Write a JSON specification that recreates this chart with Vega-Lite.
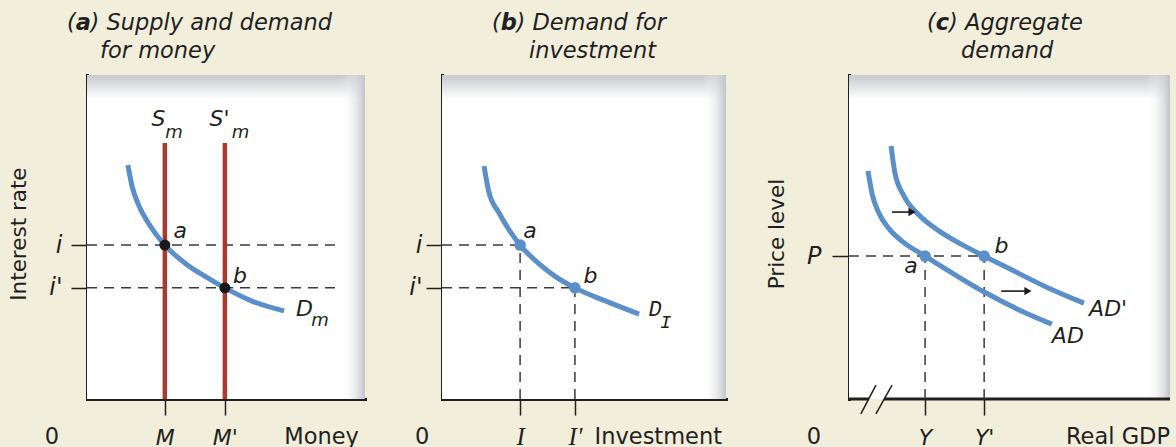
{
  "$schema": "https://vega.github.io/schema/vega-lite/v6.json",
  "background": "#f1eedc",
  "padding": {"left": 9, "top": 11, "right": 5, "bottom": 0},
  "autosize": {"type": "pad"},
  "config": {
    "view": {"stroke": null},
    "font": "DejaVu Sans",
    "axis": {"grid": false, "domainColor": "#231f20", "domainWidth": 3, "domainCap": "square", "tickColor": "#231f20", "tickWidth": 1.5, "tickSize": 16, "labelColor": "#231f20", "labelFont": "DejaVu Sans", "labelFontStyle": "italic", "labelFontSize": 22, "labelFlush": false, "labelOverlap": false, "zindex": 1},
    "axisX": {"labelPadding": 29, "labelBaseline": "alphabetic"},
    "axisY": {"labelBaseline": "middle", "labelFontSize": 24}
  },
  "spacing": 77,
  "bounds": "flush",
  "hconcat": [
    {
      "width": 278,
      "height": 324,
      "encoding": {
        "x": {"field": "x", "type": "quantitative", "scale": {"domain": [0, 10], "nice": false, "zero": false}, "axis": {"title": null, "values": [2.8, 4.96], "labelExpr": "datum.value == 2.8 ? 'M' : \"M'\""}},
        "y": {"field": "y", "type": "quantitative", "scale": {"domain": [0, 10], "nice": false, "zero": false}, "axis": {"title": null, "values": [4.75, 3.43], "labelExpr": "datum.value == 4.75 ? 'i' : \"i'\"", "labelPadding": 9}}
      },
      "layer": [
        {"data": {"values": [{"x": 0, "x2": 10, "y": 0, "y2": 10}]}, "mark": {"type": "rect", "color": {"x1": 0, "y1": 0, "x2": 0, "y2": 1, "gradient": "linear", "stops": [{"offset": 0, "color": "#c6c9ce"}, {"offset": 0.075, "color": "#ffffff"}, {"offset": 1, "color": "#ffffff"}]}}, "encoding": {"x2": {"field": "x2"}, "y2": {"field": "y2"}}},
        {"data": {"values": [{"x": 9.17, "x2": 10, "y": 0, "y2": 10}]}, "mark": {"type": "rect", "color": {"x1": 0, "y1": 0, "x2": 1, "y2": 0, "gradient": "linear", "stops": [{"offset": 0, "color": "rgba(255,255,255,0)"}, {"offset": 1, "color": "#c0c3c8"}]}}, "encoding": {"x2": {"field": "x2"}, "y2": {"field": "y2"}}},
        {"data": {"values": [{"y": 4.75, "x": 0, "x2": 9.06}, {"y": 3.43, "x": 0, "x2": 9.06}]}, "mark": {"type": "rule", "color": "#3a3a3a", "strokeWidth": 1.5, "strokeDash": [10, 7]}, "encoding": {"x2": {"field": "x2"}}},
        {"data": {"values": [{"x": 2.8, "y": 0, "y2": 7.9}, {"x": 4.96, "y": 0, "y2": 7.9}]}, "mark": {"type": "rule", "color": "#a93b2e", "strokeWidth": 4.5}, "encoding": {"y2": {"field": "y2"}}},
        {"data": {"values": [{"x": 1.47, "y": 7.22}, {"x": 1.62, "y": 6.57}, {"x": 1.87, "y": 5.96}, {"x": 2.23, "y": 5.40}, {"x": 2.8, "y": 4.75}, {"x": 3.56, "y": 4.17}, {"x": 4.28, "y": 3.77}, {"x": 4.96, "y": 3.43}, {"x": 5.94, "y": 3.02}, {"x": 7.09, "y": 2.72}]}, "mark": {"type": "line", "color": "#5b8fc9", "strokeWidth": 5, "interpolate": "monotone", "strokeCap": "butt"}},
        {"data": {"values": [{"x": 2.8, "y": 4.75}, {"x": 4.96, "y": 3.43}]}, "mark": {"type": "circle", "size": 120, "color": "#1a1a1a", "opacity": 1}},
        {"data": {"values": [{"x": 3.35, "y": 4.97, "t": "a"}, {"x": 5.5, "y": 3.58, "t": "b"}, {"x": 2.57, "y": 8.43, "t": "S"}, {"x": 4.77, "y": 8.43, "t": "S'"}, {"x": 7.82, "y": 2.56, "t": "D"}]}, "mark": {"type": "text", "fontStyle": "italic", "fontSize": 22, "align": "center", "baseline": "alphabetic", "color": "#231f20"}, "encoding": {"text": {"field": "t"}}},
        {"data": {"values": [{"x": 3.13, "y": 8.06, "t": "m"}, {"x": 5.52, "y": 8.06, "t": "m"}, {"x": 8.38, "y": 2.25, "t": "m"}]}, "mark": {"type": "text", "fontStyle": "italic", "fontSize": 18, "align": "center", "baseline": "alphabetic", "color": "#231f20"}, "encoding": {"text": {"field": "t"}}},
        {"data": {"values": [{"x": -1.26, "y": -1.39, "t": "0"}]}, "mark": {"type": "text", "fontSize": 22.5, "align": "center", "baseline": "alphabetic", "color": "#231f20"}, "encoding": {"text": {"field": "t"}}},
        {"data": {"values": [{"x": 9.78, "y": -1.39, "t": "Money"}]}, "mark": {"type": "text", "fontSize": 22.5, "align": "right", "baseline": "alphabetic", "color": "#231f20"}, "encoding": {"text": {"field": "t"}}},
        {"data": {"values": [{"x": -2.41, "y": 5.09, "t": "Interest rate"}]}, "mark": {"type": "text", "fontSize": 21.5, "angle": 270, "align": "center", "baseline": "middle", "color": "#231f20"}, "encoding": {"text": {"field": "t"}}},
        {"data": {"values": [{"x": -0.72, "y": 11.39, "open": "(", "letter": "a", "rest": ") Supply and demand"}]}, "mark": {"type": "text", "fontStyle": "italic", "fontSize": 22.5, "align": "left", "baseline": "alphabetic", "color": "#231f20"}, "encoding": {"text": {"field": "open"}}},
        {"data": {"values": [{"x": -0.72, "y": 11.39, "open": "(", "letter": "a", "rest": ") Supply and demand"}]}, "mark": {"type": "text", "fontStyle": "italic", "fontWeight": "bold", "fontSize": 22.5, "align": "left", "baseline": "alphabetic", "dx": 8.8, "color": "#231f20"}, "encoding": {"text": {"field": "letter"}}},
        {"data": {"values": [{"x": -0.72, "y": 11.39, "open": "(", "letter": "a", "rest": ") Supply and demand"}]}, "mark": {"type": "text", "fontStyle": "italic", "fontSize": 22.5, "align": "left", "baseline": "alphabetic", "dx": 23.5, "color": "#231f20"}, "encoding": {"text": {"field": "rest"}}},
        {"data": {"values": [{"x": 0.47, "y": 10.52, "t": "for money"}]}, "mark": {"type": "text", "fontStyle": "italic", "fontSize": 22.5, "align": "left", "baseline": "alphabetic", "color": "#231f20"}, "encoding": {"text": {"field": "t"}}}
      ]
    },
    {
      "width": 284,
      "height": 324,
      "encoding": {
        "x": {"field": "x", "type": "quantitative", "scale": {"domain": [0, 10], "nice": false, "zero": false}, "axis": {"title": null, "values": [2.75, 4.68], "labelExpr": "datum.value == 2.75 ? 'I' : \"I'\"", "labelFont": "Liberation Serif", "labelFontSize": 25}},
        "y": {"field": "y", "type": "quantitative", "scale": {"domain": [0, 10], "nice": false, "zero": false}, "axis": {"title": null, "values": [4.75, 3.43], "labelExpr": "datum.value == 4.75 ? 'i' : \"i'\"", "labelPadding": 4}}
      },
      "layer": [
        {"data": {"values": [{"x": 0, "x2": 10, "y": 0, "y2": 10}]}, "mark": {"type": "rect", "color": {"x1": 0, "y1": 0, "x2": 0, "y2": 1, "gradient": "linear", "stops": [{"offset": 0, "color": "#c6c9ce"}, {"offset": 0.075, "color": "#ffffff"}, {"offset": 1, "color": "#ffffff"}]}}, "encoding": {"x2": {"field": "x2"}, "y2": {"field": "y2"}}},
        {"data": {"values": [{"x": 9.19, "x2": 10, "y": 0, "y2": 10}]}, "mark": {"type": "rect", "color": {"x1": 0, "y1": 0, "x2": 1, "y2": 0, "gradient": "linear", "stops": [{"offset": 0, "color": "rgba(255,255,255,0)"}, {"offset": 1, "color": "#c0c3c8"}]}}, "encoding": {"x2": {"field": "x2"}, "y2": {"field": "y2"}}},
        {"data": {"values": [{"y": 4.75, "x": 0, "x2": 2.75}, {"y": 3.43, "x": 0, "x2": 4.68}]}, "mark": {"type": "rule", "color": "#3a3a3a", "strokeWidth": 1.5, "strokeDash": [10, 7]}, "encoding": {"x2": {"field": "x2"}}},
        {"data": {"values": [{"x": 2.75, "y": 0, "y2": 4.75}, {"x": 4.68, "y": 0, "y2": 3.43}]}, "mark": {"type": "rule", "color": "#3a3a3a", "strokeWidth": 1.5, "strokeDash": [10, 7]}, "encoding": {"y2": {"field": "y2"}}},
        {"data": {"values": [{"x": 1.48, "y": 7.19}, {"x": 1.65, "y": 6.39}, {"x": 2.01, "y": 5.74}, {"x": 2.36, "y": 5.22}, {"x": 2.75, "y": 4.75}, {"x": 3.42, "y": 4.17}, {"x": 4.01, "y": 3.77}, {"x": 4.68, "y": 3.43}, {"x": 5.77, "y": 3.02}, {"x": 6.94, "y": 2.62}]}, "mark": {"type": "line", "color": "#5b8fc9", "strokeWidth": 5, "interpolate": "monotone", "strokeCap": "butt"}},
        {"data": {"values": [{"x": 2.75, "y": 4.75}, {"x": 4.68, "y": 3.43}]}, "mark": {"type": "circle", "size": 133, "color": "#5b8fc9", "opacity": 1}},
        {"data": {"values": [{"x": 3.10, "y": 4.97, "t": "a"}, {"x": 5.23, "y": 3.58, "t": "b"}]}, "mark": {"type": "text", "fontStyle": "italic", "fontSize": 22, "align": "center", "baseline": "alphabetic", "color": "#231f20"}, "encoding": {"text": {"field": "t"}}},
        {"data": {"values": [{"x": 7.5, "y": 2.56, "t": "D"}]}, "mark": {"type": "text", "font": "Liberation Mono", "fontStyle": "italic", "fontSize": 22, "align": "center", "baseline": "alphabetic", "color": "#231f20"}, "encoding": {"text": {"field": "t"}}},
        {"data": {"values": [{"x": 7.88, "y": 2.19, "t": "I"}]}, "mark": {"type": "text", "font": "Liberation Mono", "fontStyle": "italic", "fontSize": 19, "align": "center", "baseline": "alphabetic", "color": "#231f20"}, "encoding": {"text": {"field": "t"}}},
        {"data": {"values": [{"x": -0.70, "y": -1.39, "t": "0"}]}, "mark": {"type": "text", "fontSize": 22.5, "align": "center", "baseline": "alphabetic", "color": "#231f20"}, "encoding": {"text": {"field": "t"}}},
        {"data": {"values": [{"x": 9.86, "y": -1.39, "t": "Investment"}]}, "mark": {"type": "text", "fontSize": 22.5, "align": "right", "baseline": "alphabetic", "color": "#231f20"}, "encoding": {"text": {"field": "t"}}},
        {"data": {"values": [{"x": 1.76, "y": 11.39, "open": "(", "letter": "b", "rest": ") Demand for"}]}, "mark": {"type": "text", "fontStyle": "italic", "fontSize": 22.5, "align": "left", "baseline": "alphabetic", "color": "#231f20"}, "encoding": {"text": {"field": "open"}}},
        {"data": {"values": [{"x": 1.76, "y": 11.39, "open": "(", "letter": "b", "rest": ") Demand for"}]}, "mark": {"type": "text", "fontStyle": "italic", "fontWeight": "bold", "fontSize": 22.5, "align": "left", "baseline": "alphabetic", "dx": 8.8, "color": "#231f20"}, "encoding": {"text": {"field": "letter"}}},
        {"data": {"values": [{"x": 1.76, "y": 11.39, "open": "(", "letter": "b", "rest": ") Demand for"}]}, "mark": {"type": "text", "fontStyle": "italic", "fontSize": 22.5, "align": "left", "baseline": "alphabetic", "dx": 24.5, "color": "#231f20"}, "encoding": {"text": {"field": "rest"}}},
        {"data": {"values": [{"x": 3.06, "y": 10.52, "t": "investment"}]}, "mark": {"type": "text", "fontStyle": "italic", "fontSize": 22.5, "align": "left", "baseline": "alphabetic", "color": "#231f20"}, "encoding": {"text": {"field": "t"}}}
      ]
    },
    {
      "width": 367,
      "height": 324,
      "encoding": {
        "x": {"field": "x", "type": "quantitative", "scale": {"domain": [-1.433, 10], "nice": false, "zero": false}, "axis": {"title": null, "domain": false, "values": [2.37, 4.21], "labelExpr": "datum.value == 2.37 ? 'Y' : \"Y'\""}},
        "y": {"field": "y", "type": "quantitative", "scale": {"domain": [0, 10], "nice": false, "zero": false}, "axis": {"title": null, "values": [4.41], "labelExpr": "'P'", "tickSize": 17, "labelPadding": 11, "offset": -46}}
      },
      "layer": [
        {"data": {"values": [{"x": 0, "x2": 10, "y": 0, "y2": 10}]}, "mark": {"type": "rect", "color": {"x1": 0, "y1": 0, "x2": 0, "y2": 1, "gradient": "linear", "stops": [{"offset": 0, "color": "#c6c9ce"}, {"offset": 0.075, "color": "#ffffff"}, {"offset": 1, "color": "#ffffff"}]}}, "encoding": {"x2": {"field": "x2"}, "y2": {"field": "y2"}}},
        {"data": {"values": [{"x": 9.28, "x2": 10, "y": 0, "y2": 10}]}, "mark": {"type": "rect", "color": {"x1": 0, "y1": 0, "x2": 1, "y2": 0, "gradient": "linear", "stops": [{"offset": 0, "color": "rgba(255,255,255,0)"}, {"offset": 1, "color": "#c0c3c8"}]}}, "encoding": {"x2": {"field": "x2"}, "y2": {"field": "y2"}}},
        {"data": {"values": [{"x": -0.02, "x2": 0.62, "y": 0}, {"x": 1.09, "x2": 10, "y": 0}]}, "mark": {"type": "rule", "color": "#231f20", "strokeWidth": 3}, "encoding": {"x2": {"field": "x2"}}},
        {"data": {"values": [{"x": 0.37, "y": -0.46, "x2": 0.84, "y2": 0.43}, {"x": 0.84, "y": -0.46, "x2": 1.34, "y2": 0.43}]}, "mark": {"type": "rule", "color": "#231f20", "strokeWidth": 1.5}, "encoding": {"x2": {"field": "x2"}, "y2": {"field": "y2"}}},
        {"data": {"values": [{"y": 4.41, "x": 0, "x2": 4.21}]}, "mark": {"type": "rule", "color": "#3a3a3a", "strokeWidth": 1.5, "strokeDash": [10, 7]}, "encoding": {"x2": {"field": "x2"}}},
        {"data": {"values": [{"x": 2.37, "y": 0, "y2": 4.41}, {"x": 4.21, "y": 0, "y2": 4.41}]}, "mark": {"type": "rule", "color": "#3a3a3a", "strokeWidth": 1.5, "strokeDash": [10, 7]}, "encoding": {"y2": {"field": "y2"}}},
        {"data": {"values": [
          {"c": "AD", "x": 0.59, "y": 7.04}, {"c": "AD", "x": 0.72, "y": 6.33}, {"c": "AD", "x": 0.93, "y": 5.74}, {"c": "AD", "x": 1.25, "y": 5.25}, {"c": "AD", "x": 1.68, "y": 4.85}, {"c": "AD", "x": 2.37, "y": 4.41}, {"c": "AD", "x": 3.21, "y": 3.89}, {"c": "AD", "x": 4.27, "y": 3.27}, {"c": "AD", "x": 5.30, "y": 2.75}, {"c": "AD", "x": 6.32, "y": 2.31},
          {"c": "AD'", "x": 1.31, "y": 7.81}, {"c": "AD'", "x": 1.43, "y": 6.98}, {"c": "AD'", "x": 1.71, "y": 6.27}, {"c": "AD'", "x": 2.18, "y": 5.68}, {"c": "AD'", "x": 2.80, "y": 5.19}, {"c": "AD'", "x": 3.49, "y": 4.78}, {"c": "AD'", "x": 4.21, "y": 4.41}, {"c": "AD'", "x": 5.08, "y": 3.98}, {"c": "AD'", "x": 6.14, "y": 3.46}, {"c": "AD'", "x": 7.32, "y": 2.96}
        ]}, "mark": {"type": "line", "color": "#5b8fc9", "strokeWidth": 5, "interpolate": "monotone", "strokeCap": "butt"}, "encoding": {"detail": {"field": "c"}}},
        {"data": {"values": [{"x": 2.37, "y": 4.41}, {"x": 4.21, "y": 4.41}]}, "mark": {"type": "circle", "size": 133, "color": "#5b8fc9", "opacity": 1}},
        {"data": {"values": [{"x": 1.34, "x2": 1.93, "y": 5.77}, {"x": 4.74, "x2": 5.54, "y": 3.33}]}, "mark": {"type": "rule", "color": "#1a1a1a", "strokeWidth": 1.6}, "encoding": {"x2": {"field": "x2"}}},
        {"data": {"values": [{"x": 2.09, "y": 5.77}, {"x": 5.70, "y": 3.33}]}, "mark": {"type": "point", "shape": "triangle-right", "size": 70, "filled": true, "opacity": 1, "color": "#1a1a1a", "xOffset": -4}},
        {"data": {"values": [{"x": 1.93, "y": 3.89, "t": "a"}, {"x": 4.75, "y": 4.51, "t": "b"}]}, "mark": {"type": "text", "fontStyle": "italic", "fontSize": 22, "align": "center", "baseline": "alphabetic", "color": "#231f20"}, "encoding": {"text": {"field": "t"}}},
        {"data": {"values": [{"x": 7.48, "y": 2.56, "t": "AD'"}, {"x": 6.32, "y": 1.73, "t": "AD"}]}, "mark": {"type": "text", "fontStyle": "italic", "fontSize": 22, "align": "left", "baseline": "alphabetic", "color": "#231f20"}, "encoding": {"text": {"field": "t"}}},
        {"data": {"values": [{"x": -1.09, "y": -1.39, "t": "0"}]}, "mark": {"type": "text", "fontSize": 22.5, "align": "center", "baseline": "alphabetic", "color": "#231f20"}, "encoding": {"text": {"field": "t"}}},
        {"data": {"values": [{"x": 10, "y": -1.39, "t": "Real GDP"}]}, "mark": {"type": "text", "fontSize": 22.5, "align": "right", "baseline": "alphabetic", "color": "#231f20"}, "encoding": {"text": {"field": "t"}}},
        {"data": {"values": [{"x": -2.21, "y": 5.09, "t": "Price level"}]}, "mark": {"type": "text", "fontSize": 21.5, "angle": 270, "align": "center", "baseline": "middle", "color": "#231f20"}, "encoding": {"text": {"field": "t"}}},
        {"data": {"values": [{"x": 2.43, "y": 11.39, "open": "(", "letter": "c", "rest": ") Aggregate"}]}, "mark": {"type": "text", "fontStyle": "italic", "fontSize": 22.5, "align": "left", "baseline": "alphabetic", "color": "#231f20"}, "encoding": {"text": {"field": "open"}}},
        {"data": {"values": [{"x": 2.43, "y": 11.39, "open": "(", "letter": "c", "rest": ") Aggregate"}]}, "mark": {"type": "text", "fontStyle": "italic", "fontWeight": "bold", "fontSize": 22.5, "align": "left", "baseline": "alphabetic", "dx": 8.8, "color": "#231f20"}, "encoding": {"text": {"field": "letter"}}},
        {"data": {"values": [{"x": 2.43, "y": 11.39, "open": "(", "letter": "c", "rest": ") Aggregate"}]}, "mark": {"type": "text", "fontStyle": "italic", "fontSize": 22.5, "align": "left", "baseline": "alphabetic", "dx": 22.1, "color": "#231f20"}, "encoding": {"text": {"field": "rest"}}},
        {"data": {"values": [{"x": 3.49, "y": 10.52, "t": "demand"}]}, "mark": {"type": "text", "fontStyle": "italic", "fontSize": 22.5, "align": "left", "baseline": "alphabetic", "color": "#231f20"}, "encoding": {"text": {"field": "t"}}}
      ]
    }
  ]
}
